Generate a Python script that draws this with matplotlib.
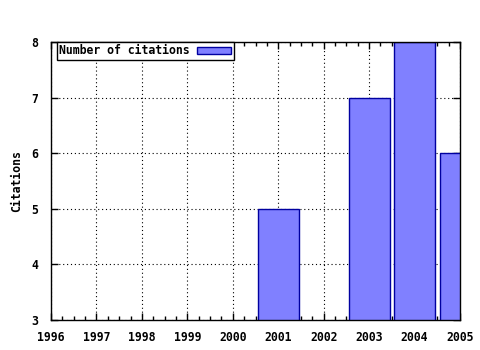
import matplotlib
matplotlib.use("Agg")
import matplotlib.pyplot as plt
from matplotlib.ticker import MultipleLocator
from matplotlib.patches import Patch

years = [2001, 2003, 2004, 2005]
citations = [5, 7, 8, 6]
xticks = [1996, 1997, 1998, 1999, 2000, 2001, 2002, 2003, 2004, 2005]
yticks = [3, 4, 5, 6, 7, 8]

plt.rcParams['font.family'] = ['DejaVu Sans Mono']
plt.rcParams['font.weight'] = 'bold'
FS = 8.3

fig = plt.figure(figsize=(4.8, 3.5), dpi=100)
ax = fig.add_axes([51/480, 1-320/350, (460-51)/480, (320-42)/350])

ax.bar(years, citations, width=0.9, color='#8080ff', edgecolor='#0000a0',
       linewidth=1.0, zorder=2)

ax.set_xlim(1996, 2005)
ax.set_ylim(3, 8)
ax.set_xticks(xticks)
ax.set_yticks(yticks)
ax.xaxis.set_minor_locator(MultipleLocator(0.25))
ax.grid(True, which='major', color='black', linestyle=(0, (1, 2.5)), linewidth=0.8, zorder=0)
ax.set_axisbelow(True)

ax.tick_params(axis='both', which='major', direction='in', length=5, width=1,
               top=True, right=True, labelsize=FS)
ax.tick_params(axis='x', which='major', pad=8)
ax.tick_params(axis='y', which='major', pad=9)
ax.tick_params(axis='x', which='minor', direction='in', length=3, width=1, top=True)
for lab in ax.get_xticklabels() + ax.get_yticklabels():
    lab.set_fontweight('bold')
for s in ax.spines.values():
    s.set_linewidth(1.0)

ax.set_ylabel('Citations', fontsize=FS, fontweight='bold', labelpad=6)

h = Patch(facecolor='#8080ff', edgecolor='#0000a0', linewidth=1.0)
leg = ax.legend([h], ['Number of citations'], loc='upper left',
                bbox_to_anchor=(6/409, 1.0), markerfirst=False, fancybox=False,
                shadow=False, frameon=True, borderpad=0.2, handlelength=3.0,
                handleheight=0.6, handletextpad=0.6, borderaxespad=0,
                prop={'family': 'DejaVu Sans Mono', 'weight': 'bold', 'size': FS})
leg.get_frame().set_edgecolor('black')
leg.get_frame().set_linewidth(1.0)
leg.get_frame().set_alpha(1)

fig.savefig('out.png', dpi=100)
